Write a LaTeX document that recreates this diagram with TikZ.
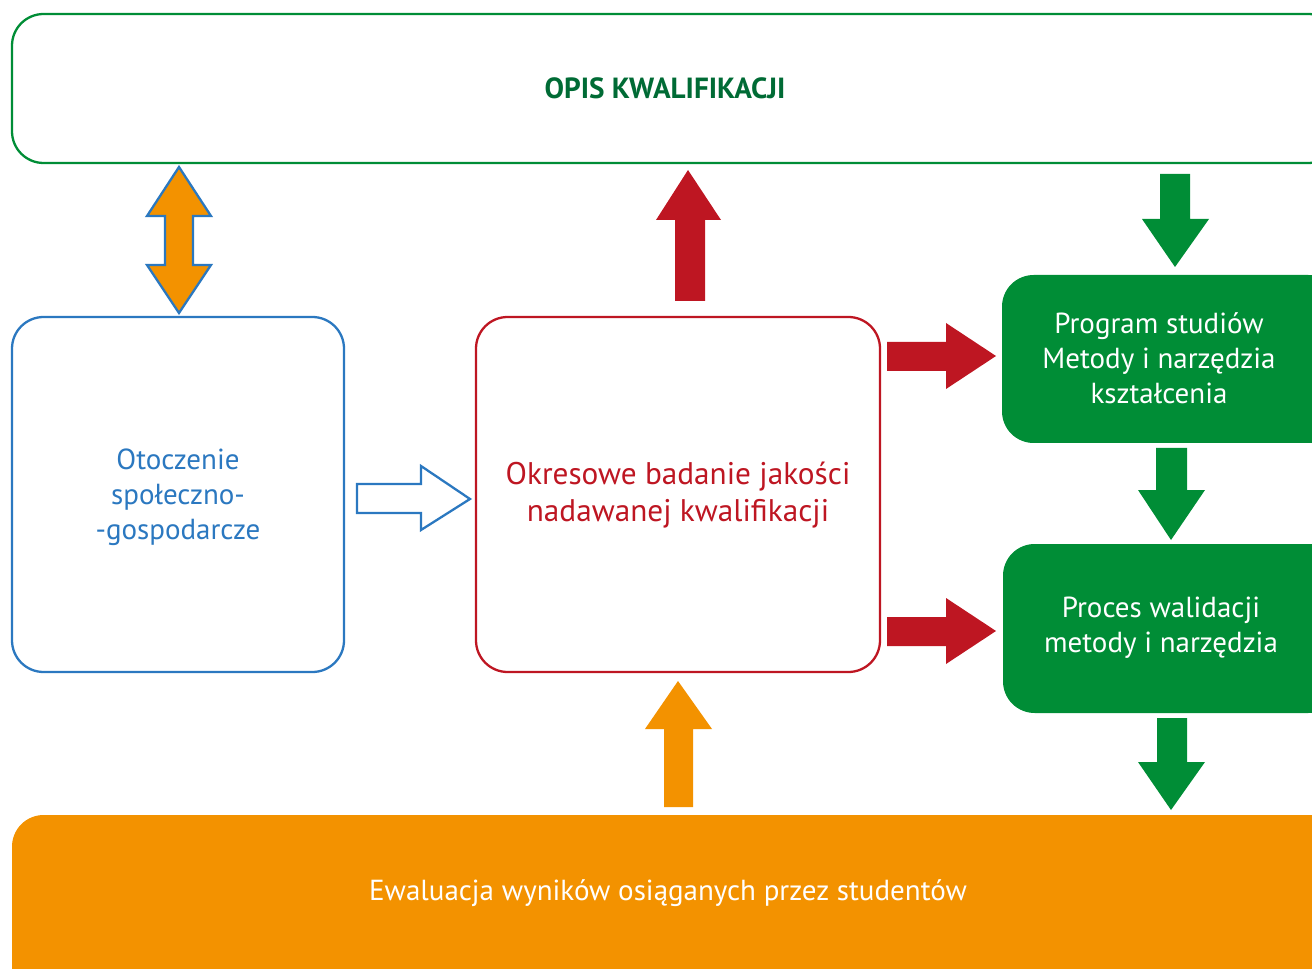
\documentclass[tikz,border=0pt]{standalone}
\usepackage{fontspec}
\setmainfont{PT Sans}
\definecolor{cgreen}{HTML}{008D36}
\definecolor{cdkgreen}{HTML}{006B35}
\definecolor{cred}{HTML}{BE1622}
\definecolor{corange}{HTML}{F39200}
\definecolor{cblue}{HTML}{2B78C0}
\begin{document}
\begin{tikzpicture}[x=0.02cm,y=-0.02cm,
  box/.style={rounded corners=18pt,line width=1.3pt},
  lbl/.style={align=center,font=\fontsize{16.5}{19.8}\selectfont},
  redarrow/.style={fill=cred,draw=none},
  greenarrow/.style={fill=cgreen,draw=none},
  orangearrow/.style={fill=corange,draw=none}]
\useasboundingbox (0,0) rectangle (1312,969);
\clip (0,0) rectangle (1312,969);
% boxes
\draw[box,draw=cgreen,fill=white] (12,14) rectangle (1340,163);
\node[lbl,font=\fontsize{16.6}{19.8}\selectfont\bfseries,text=cdkgreen] (opis) at (665,88) {OPIS KWALIFIKACJI};
\draw[box,draw=cblue,fill=white] (12,317) rectangle (344,672);
\node[lbl,text=cblue] (otocz) at (178,497) {Otoczenie\\społeczno-\\-gospodarcze};
\draw[box,draw=cred,fill=white] (476,317) rectangle (880,672);
\node[lbl,font=\fontsize{17.8}{21}\selectfont,text=cred] (okres) at (678,495) {Okresowe badanie jakości\\nadawanej kwalifikacji};
\fill[box,cgreen] (1002,275) rectangle (1340,443);
\node[lbl,text=white] (prog) at (1159,358) {Program studiów\\Metody i narzędzia\\kształcenia};
\fill[box,cgreen] (1003,544) rectangle (1340,713);
\node[lbl,text=white] (proc) at (1161,628) {Proces walidacji\\metody i narzędzia};
\fill[box,corange] (12,815) rectangle (1340,1010);
\node[lbl,text=white] (ewal) at (668,893) {Ewaluacja wyników osiąganych przez studentów};
% double arrow
\draw[fill=corange,draw=cblue,line width=1.3pt,line join=miter]
  (179,167) -- (211,216) -- (193,216) -- (193,265) -- (211,265) -- (179,313)
  -- (147,265) -- (165,265) -- (165,216) -- (147,216) -- cycle;
% hollow arrow
\draw[fill=white,draw=cblue,line width=1.3pt]
  (357,484) -- (421,484) -- (421,466) -- (470,499) -- (421,530) -- (421,513) -- (357,513) -- cycle;
% red up arrow
\fill[redarrow] (675,301) -- (675,220) -- (656,220) -- (688,170) -- (721,220) -- (705,220) -- (705,301) -- cycle;
% red right arrows
\fill[redarrow] (887,342) -- (946,342) -- (946,323) -- (996,356) -- (946,389) -- (946,371) -- (887,371) -- cycle;
\fill[redarrow] (887,617) -- (946,617) -- (946,598) -- (996,631) -- (946,664) -- (946,646) -- (887,646) -- cycle;
% green down arrows
\fill[greenarrow] (1160,174) -- (1190,174) -- (1190,219) -- (1209,219) -- (1175,267) -- (1142,219) -- (1160,219) -- cycle;
\fill[greenarrow] (1156,448) -- (1187,448) -- (1187,490) -- (1205,490) -- (1171,540) -- (1138,490) -- (1156,490) -- cycle;
\fill[greenarrow] (1157,718) -- (1187,718) -- (1187,762) -- (1205,762) -- (1171,810) -- (1138,762) -- (1157,762) -- cycle;
% orange up arrow
\fill[orangearrow] (664,807) -- (664,729) -- (645,729) -- (678,681) -- (712,729) -- (693,729) -- (693,807) -- cycle;
\end{tikzpicture}
\end{document}
